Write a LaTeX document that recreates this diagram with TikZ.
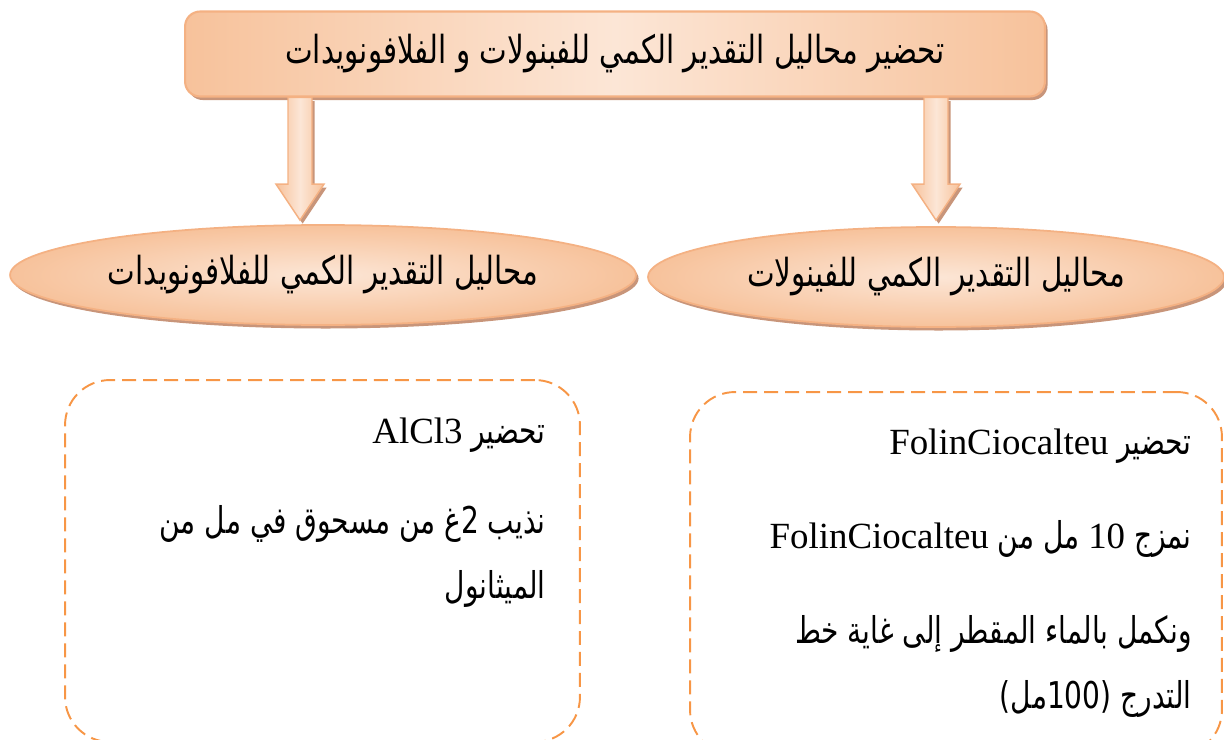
\documentclass[tikz,border=0pt]{standalone}
\usepackage{fontspec}
\setmainfont{Liberation Serif}
\newfontfamily\arabicfont[Script=Arabic,FakeStretch=0.76]{DejaVu Sans}
\TeXXeTstate=1
\usetikzlibrary{shapes.geometric,shadows,calc}

\definecolor{peachdark}{HTML}{F7C29B}
\definecolor{peachlight}{HTML}{FCE6D6}
\definecolor{peachline}{HTML}{F4B183}
\definecolor{peachshadow}{HTML}{C8957A}
\definecolor{dashorange}{HTML}{F79646}

% Arabic line (right to left) and Latin run inside it
\newcommand{\artxt}[1]{{\arabicfont\beginR #1\endR}}
\newcommand{\lattxt}[1]{\beginL{\rmfamily #1}\endL{}}

% block arrow pointing down, from #1 to tip #2
\newcommand{\downblock}[2]{%
  \path[blockarrow] ($(#1)+(-12,0)$) -- ($(#2)+(-12,-36)$) -- ($(#2)+(-24,-36)$) -- (#2)
    -- ($(#2)+(24,-36)$) -- ($(#2)+(12,-36)$) -- ($(#1)+(12,0)$) -- cycle;}

\begin{document}
\begin{tikzpicture}[x=0.02cm,y=-0.02cm,
  softshadow/.style={drop shadow={shadow xshift=1.5pt,shadow yshift=-2pt,fill=peachshadow,opacity=1}},
  titlebox/.style={draw=peachline,line width=1.2pt,rounded corners=0.3cm,
    left color=peachdark,right color=peachdark,middle color=peachlight,
    minimum width=17.2cm,minimum height=1.7cm,softshadow,
    font=\fontsize{22}{26}\selectfont},
  oval/.style={ellipse,draw=peachline,line width=1pt,inner color=peachlight,outer color=peachdark,
    inner sep=0pt,minimum height=2cm,softshadow,font=\fontsize{22}{26}\selectfont},
  blockarrow/.style={draw=peachline,line width=0.8pt,left color=peachdark,right color=peachdark,
    middle color=peachlight,softshadow},
  dashbox/.style={draw=dashorange,line width=1.1pt,dash pattern=on 0.28cm off 0.14cm,
    rounded corners=0.9cm},
  boxline/.style={anchor=base east,inner sep=0pt,font=\fontsize{21}{25}\selectfont}]
\useasboundingbox (0,0) rectangle (1224,740);

% title and the two solution kinds
\node[titlebox] (top) at (615,54) {\artxt{تحضير محاليل التقدير الكمي للفبنولات و الفلافونويدات}};
\node[oval,minimum width=12.52cm] (elL) at (323,275) {\artxt{محاليل التقدير الكمي للفلافونويدات}};
\node[oval,minimum width=11.52cm] (elR) at (936,277) {\artxt{محاليل التقدير الكمي للفينولات}};

% arrows
\path (top.south) ++(-315,0) coordinate (aLs);
\path (top.south) ++(321,0) coordinate (aRs);
\coordinate (aLe) at ($(aLs |- elL.north)+(0,-4)$);
\coordinate (aRe) at ($(aRs |- elR.north)+(0,-6)$);
\downblock{aLs}{aLe}
\downblock{aRs}{aRe}

% preparation boxes
\node[dashbox,minimum width=10.3cm,minimum height=7.24cm] (boxL) at (322.5,561) {};
\node[dashbox,minimum width=10.64cm,minimum height=7.26cm] (boxR) at (956,573.5) {};

\node[boxline] (l1) at (546,443) {\artxt{تحضير \lattxt{AlCl3}}};
\node[boxline] (l2) at (546,533) {\artxt{نذيب 2غ من مسحوق في مل من}};
\node[boxline] (l3) at (546,598) {\artxt{الميثانول}};

\node[boxline] (r1) at (1192,454) {\artxt{تحضير \lattxt{FolinCiocalteu}}};
\node[boxline] (r2) at (1192,548) {\artxt{نمزج \lattxt{10} مل من \lattxt{FolinCiocalteu}}};
\node[boxline] (r3) at (1192,643) {\artxt{ونكمل بالماء المقطر إلى غاية خط}};
\node[boxline] (r4) at (1192,708) {\artxt{التدرج (100مل)}};
\end{tikzpicture}
\end{document}
